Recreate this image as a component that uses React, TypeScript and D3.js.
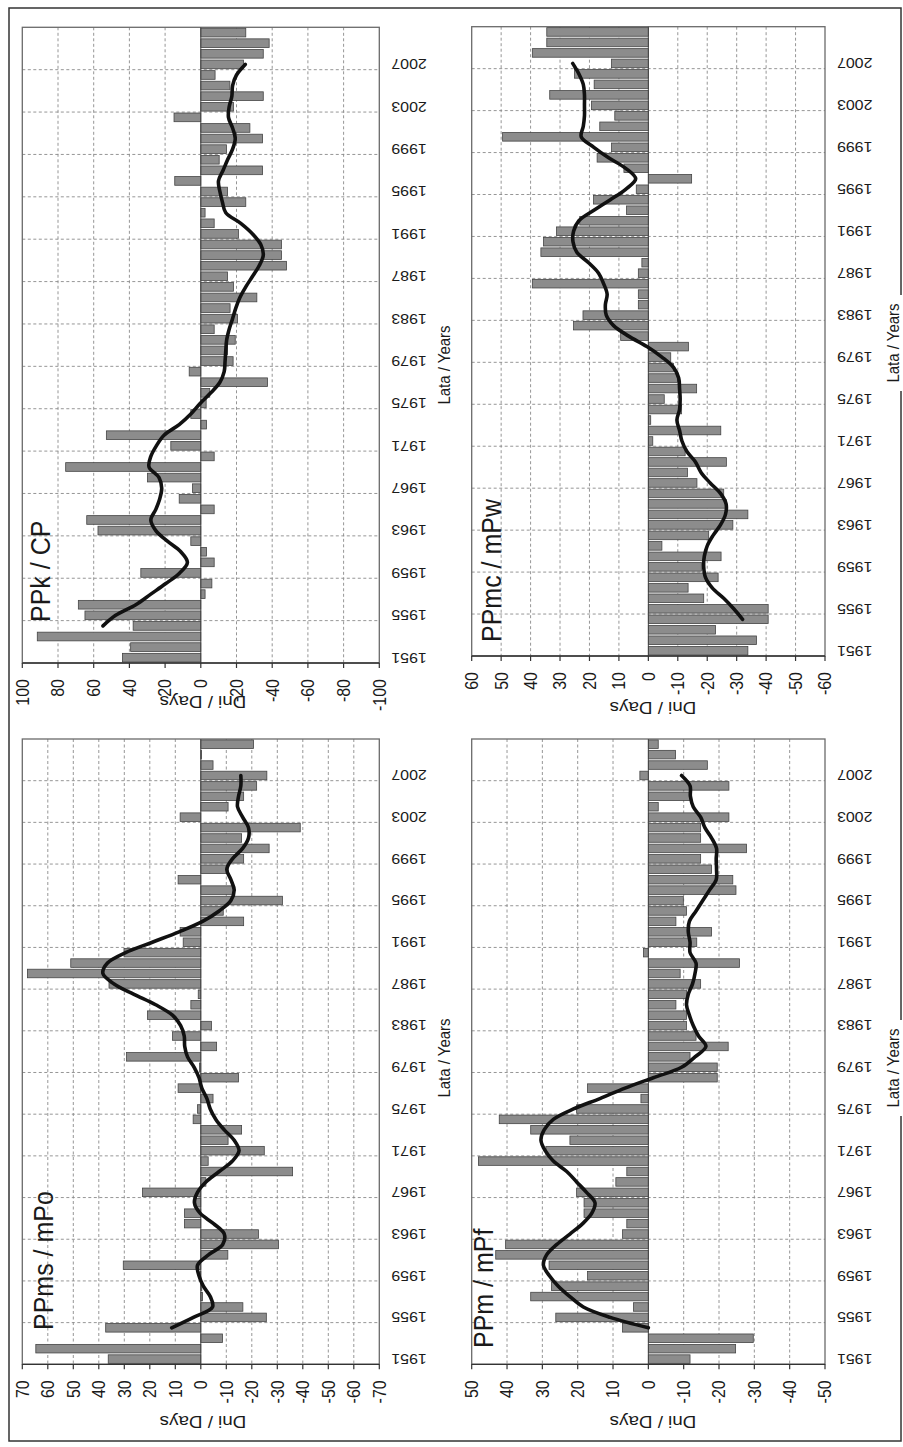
import React from "react";
import * as d3 from "d3";

// ---------- data ----------
const YEARS: number[] = Array.from({ length: 60 }, (_, i) => 1951 + i);
const YEAR_TICKS = [1951, 1955, 1959, 1963, 1967, 1971, 1975, 1979, 1983, 1987, 1991, 1995, 1999, 2003, 2007];
const TREND_YEARS: number[] = Array.from({ length: 54 }, (_, i) => 1954 + i);

const PPK_BARS = [
  43.9, 39.3, 91.6, 37.9, 64.9, 68.6, -2.4, -6.2, 33.6, -7.5,
  -3.2, 5.6, 57.6, 63.9, -7.5, 12.1, 4.7, 29.9, 75.7, -7.5,
  16.8, 52.9, -3.2, 5.6, -3.0, -5.0, -37.4, 6.5, -18.1, -15.0,
  -19.3, -7.5, -20.6, -16.4, -31.4, -18.3, -15.0, -48.0, -45.2, -45.2,
  -21.1, -7.5, -2.4, -25.2, -15.0, 14.6, -34.6, -10.3, -14.4, -34.6,
  -27.5, 15.0, -18.3, -35.0, -16.3, -8.0, -23.9, -35.0, -38.3, -25.2,
];
const PPK_TREND = [
  54.8, 47.7, 36.4, 28, 19.6, 11.8, 7.5, 11.2, 18.7, 25.2,
  28, 25.2, 23, 21.9, 23.4, 29, 28, 24.9, 20.6, 12.1,
  5.6, 0.4, -5.6, -10.7, -13.1, -13.6, -14, -14.5, -15.9, -17.8,
  -19.6, -21.9, -25.2, -29, -32.7, -35, -33.6, -29, -22.4, -14,
  -12.1, -10.7, -9.9, -12.5, -15, -17.8, -19.3, -17.8, -15.5, -15.9,
  -17.4, -17.8, -20, -24.9,
];

const PPMC_BARS = [
  -33.8, -36.7, -22.8, -40.7, -40.7, -18.8, -13.5, -23.7, -18.0, -24.7,
  -4.6, -20.5, -28.7, -33.8, -26.5, -25.6, -16.5, -13.3, -26.5, -12.5,
  -1.5, -24.6, -0.8, -11.3, -5.4, -16.4, -9.9, -8.5, -7.6, -13.6,
  9.4, 25.4, 22.2, 3.4, 3.4, 39.4, 3.4, 2.2, 36.5, 35.6,
  31.2, 23.3, 7.4, 18.6, 4.1, -14.7, 8.3, 17.4, 12.5, 49.5,
  16.5, 11.4, 19.3, 33.5, 18.4, 25.1, 12.5, 39.4, 34.5, 34.5,
];
const PPMC_TREND = [
  -32, -29, -25.6, -21.7, -19.4, -18.8, -19, -20, -22, -24.5,
  -26.2, -26.4, -24.5, -21, -17.9, -16, -13.1, -11.4, -10.6, -9.7,
  -10.6, -10.8, -10.6, -10.3, -8.6, -4.6, 0.5, 6.7, 11.8, 14.3,
  14.6, 14, 15.2, 16.9, 20.3, 24.3, 25.6, 25.4, 23.6, 18.5,
  12.9, 7.7, 4.3, 7.7, 13.5, 18.5, 22.8, 22.1, 21.7, 21.7,
  21.7, 22.1, 23.6, 25.7,
];

const PPMS_BARS = [
  36.3, 64.7, -8.5, 37.3, -25.7, -16.5, -0.7, -0.4, 0.3, 30.4,
  -10.6, -30.5, -22.6, 6.4, 6.4, 2.0, 22.9, -2.0, -36.0, -2.9,
  -24.9, -10.7, -16.0, 3.0, 1.3, -4.8, 8.9, -14.8, 0.5, 29.1,
  -6.2, 11.1, -4.2, 20.9, 3.9, 1.0, 36.0, 68.0, 51.0, 30.1,
  6.9, 8.1, -16.8, -8.8, -32.0, -12.8, 8.9, -10.7, -16.8, -26.8,
  -16.0, -39.0, 8.1, -10.7, -16.8, -21.9, -25.9, -4.8, -0.3, -20.7,
];
const PPMS_TREND = [
  11.4, 2.9, -4.6, -3.7, -1, 0.7, 1.3, -3, -8.6, -9.2,
  -5, 0.3, 2.5, 1.3, -2, -7.2, -12.4, -15, -13.1, -9.2,
  -5.9, -3.7, -2.4, -0.4, 0.7, 2.6, 5.2, 6.3, 6.5, 7.9,
  11.1, 17.7, 26.2, 34, 38.4, 36.6, 29.5, 19, 8.5, -0.7,
  -7.2, -11.8, -13.1, -11.8, -10.2, -12.4, -16.4, -18.7, -18.7, -16.4,
  -14.4, -14.8, -15.7, -15.7,
];

const PPM_BARS = [
  -11.8, -24.7, -29.7, 7.3, 26.2, 4.2, 33.3, 27.4, 17.2, 28.1,
  43.2, 40.4, 7.3, 6.1, 18.2, 18.2, 20.3, 9.2, 6.1, 48.1,
  29.0, 22.2, 33.3, 42.2, 20.3, 2.1, 17.2, -19.5, -19.5, -11.8,
  -22.6, -13.5, -10.8, -10.8, -7.8, -10.8, -14.8, -9.0, -25.8, 1.4,
  -13.7, -17.9, -7.8, -10.8, -9.9, -24.8, -23.9, -17.9, -14.8, -27.8,
  -14.8, -14.8, -22.8, -2.8, -11.8, -22.8, 2.4, -16.7, -7.7, -2.8,
];
const PPM_TREND = [
  0, 10.8, 18.4, 22.2, 25.5, 28, 29.7, 28.8, 25.9, 22.2,
  18.6, 16, 15.1, 17.5, 20.3, 23.1, 26.9, 29.2, 30.4, 29.5,
  26.9, 21.2, 13.7, 6.6, -1.4, -9.4, -13.2, -16.3, -14.2, -12.7,
  -11.6, -10.8, -11.3, -12.5, -13.2, -13.5, -11.8, -11.8, -11.3, -11.6,
  -13.5, -15.4, -17.3, -19.2, -19.3, -19.2, -19.3, -17.9, -16, -14.8,
  -12.7, -11.9, -11.8, -9.4,
];

// ---------- layout ----------
const W = 903;
const H = 1447;
const SX = 1.14; // horizontal stretch of the scanned text
const FONT = "'Liberation Sans', Arial, Helvetica, sans-serif";

type PanelCfg = {
  title: string;
  bars: number[];
  trend: number[];
  max: number;
  step: number;
  left: number;
  right: number;
  top: number;
  bottom: number;
  titleX: number;
  titleY: number;
  daysX: number;
  daysY: number;
  yrsX: number;
  yrsY: number;
  yrsBg: boolean;
};

const PANELS: PanelCfg[] = [
  {
    title: "PPk / CP", bars: PPK_BARS, trend: PPK_TREND, max: 100, step: 20,
    left: 22.3, right: 379.3, top: 27.3, bottom: 663,
    titleX: 50, titleY: 622, daysX: 203, daysY: 702, yrsX: 444, yrsY: 365, yrsBg: false,
  },
  {
    title: "PPmc / mPw", bars: PPMC_BARS, trend: PPMC_TREND, max: 60, step: 10,
    left: 471.7, right: 825, top: 26.7, bottom: 656,
    titleX: 501, titleY: 642, daysX: 653, daysY: 708, yrsX: 893, yrsY: 343, yrsBg: true,
  },
  {
    title: "PPms / mPo", bars: PPMS_BARS, trend: PPMS_TREND, max: 70, step: 10,
    left: 22.3, right: 379.3, top: 739, bottom: 1364.3,
    titleX: 53, titleY: 1330, daysX: 203, daysY: 1422, yrsX: 444, yrsY: 1058, yrsBg: false,
  },
  {
    title: "PPm / mPf", bars: PPM_BARS, trend: PPM_TREND, max: 50, step: 10,
    left: 471.7, right: 825, top: 739, bottom: 1364.3,
    titleX: 493, titleY: 1348, daysX: 653, daysY: 1422, yrsX: 893, yrsY: 1068, yrsBg: true,
  },
];

function RText(props: {
  x: number; y: number; angle: number; anchor: string; baseline: string;
  size: number; children: React.ReactNode;
}) {
  const { x, y, angle, anchor, baseline, size, children } = props;
  return (
    <text
      transform={`translate(${x},${y}) scale(${SX},1) rotate(${angle})`}
      textAnchor={anchor as any}
      dominantBaseline={baseline as any}
      fontSize={size}
      fontFamily={FONT}
      fill="#1a1a1a"
    >
      {children}
    </text>
  );
}

function Panel({ cfg }: { cfg: PanelCfg }) {
  const x = d3.scaleLinear().domain([cfg.max, -cfg.max]).range([cfg.left, cfg.right]);
  const y = d3
    .scaleBand<number>()
    .domain(YEARS)
    .range([cfg.bottom, cfg.top])
    .paddingInner(0.18)
    .paddingOuter(0.09);
  const bw = y.bandwidth();
  const yb = d3.scaleLinear().domain([0, YEARS.length]).range([cfg.bottom, cfg.top]);
  const ticks = d3.range(cfg.max, -cfg.max - 0.001, -cfg.step);
  const boundaries = d3.range(4, YEARS.length, 4);
  const x0 = x(0);

  const line = d3
    .line<[number, number]>()
    .x((d) => x(d[1]))
    .y((d) => (y(d[0]) as number) + bw / 2)
    .curve(d3.curveCatmullRom.alpha(0.5));
  const trendPts: [number, number][] = TREND_YEARS.map((yr, i) => [yr, cfg.trend[i]]);

  return (
    <g>
      {/* gridlines */}
      {ticks
        .filter((t) => t !== cfg.max && t !== -cfg.max && t !== 0)
        .map((t) => (
          <line key={"v" + t} x1={x(t)} x2={x(t)} y1={cfg.top} y2={cfg.bottom}
            stroke="#8a8a8a" strokeWidth={0.9} strokeDasharray="3,2.5" />
        ))}
      {boundaries.map((k) => (
        <line key={"h" + k} x1={cfg.left} x2={cfg.right} y1={yb(k)} y2={yb(k)}
          stroke="#8a8a8a" strokeWidth={0.9} strokeDasharray="3,2.5" />
      ))}
      {/* plot border */}
      <rect x={cfg.left} y={cfg.top} width={cfg.right - cfg.left} height={cfg.bottom - cfg.top}
        fill="none" stroke="#6a6a6a" strokeWidth={1.3} />
      {/* bars */}
      {YEARS.map((yr, i) => {
        const v = cfg.bars[i];
        const xv = x(v);
        return (
          <rect key={yr} x={Math.min(xv, x0)} y={y(yr)} width={Math.abs(xv - x0)} height={bw}
            fill="#8c8c8c" stroke="#454545" strokeWidth={0.8} />
        );
      })}
      {/* zero line */}
      <line x1={x0} x2={x0} y1={cfg.top} y2={cfg.bottom} stroke="#444" strokeWidth={1} />
      {/* value axis */}
      <line x1={cfg.left} x2={cfg.right} y1={cfg.bottom} y2={cfg.bottom} stroke="#333" strokeWidth={1.3} />
      {ticks.map((t) => (
        <g key={"t" + t}>
          <line x1={x(t)} x2={x(t)} y1={cfg.bottom} y2={cfg.bottom + 5} stroke="#333" strokeWidth={1.2} />
          <RText x={x(t)} y={cfg.bottom + 16} angle={-90} anchor="end" baseline="central" size={16}>
            {String(t)}
          </RText>
        </g>
      ))}
      {/* year labels */}
      {YEAR_TICKS.map((yr) => (
        <RText key={"y" + yr} x={cfg.right + 12} y={(y(yr) as number) + bw / 2} angle={180}
          anchor="end" baseline="central" size={14}>
          {String(yr)}
        </RText>
      ))}
      {/* trend line */}
      <path d={line(trendPts) || ""} fill="none" stroke="#111" strokeWidth={3.6}
        strokeLinejoin="round" strokeLinecap="round" />
      {/* titles */}
      <RText x={cfg.titleX} y={cfg.titleY} angle={-90} anchor="start" baseline="alphabetic" size={25}>
        {cfg.title}
      </RText>
      <RText x={cfg.daysX} y={cfg.daysY} angle={180} anchor="middle" baseline="central" size={16.5}>
        Dni / Days
      </RText>
      {cfg.yrsBg && (
        <rect x={cfg.yrsX - 10} y={cfg.yrsY - 48} width={20} height={96} fill="#fff" />
      )}
      <RText x={cfg.yrsX} y={cfg.yrsY} angle={-90} anchor="middle" baseline="central" size={15}>
        Lata / Years
      </RText>
    </g>
  );
}

export default function App() {
  return (
    <div style={{ position: "absolute", left: 0, top: 0, width: W, height: H, background: "#fff" }}>
      <svg width={W} height={H} viewBox={`0 0 ${W} ${H}`} style={{ display: "block" }}>
        <rect x={0} y={0} width={W} height={H} fill="#fff" />
        <rect x={9} y={8} width={892} height={1433} fill="none" stroke="#333" strokeWidth={1.5} />
        {PANELS.map((p) => (
          <Panel key={p.title} cfg={p} />
        ))}
      </svg>
    </div>
  );
}
